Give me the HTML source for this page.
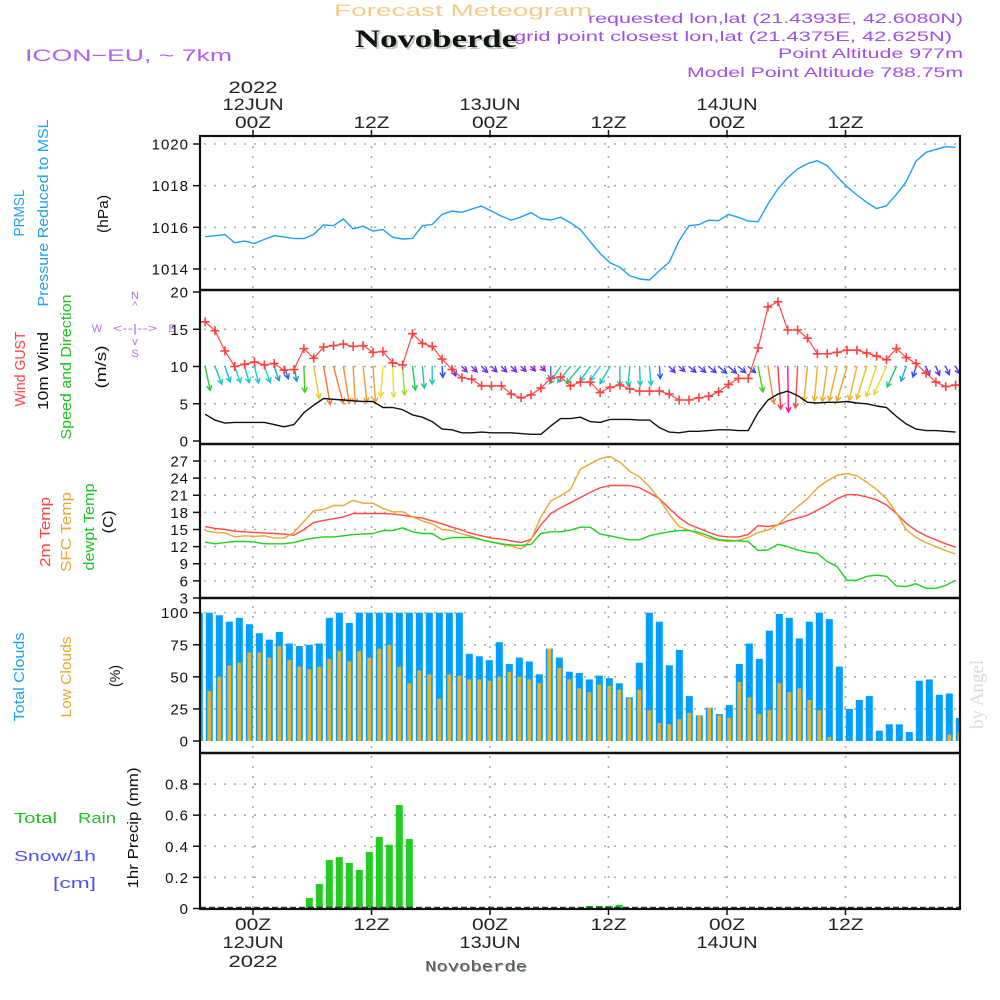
<!DOCTYPE html>
<html>
<head>
<meta charset="utf-8">
<style>
  html,body{margin:0;padding:0;background:#fff;}
  svg{display:block;}
  text{font-family:"Liberation Sans",sans-serif;}
</style>
</head>
<body>
<svg id="chart" width="1000" height="1000" viewBox="0 0 1000 1000" xmlns="http://www.w3.org/2000/svg">
  <rect x="0" y="0" width="1000" height="1000" fill="#fff"/>
  <!-- header -->
  <text x="334" y="16" font-size="17" fill="#f2cc88" textLength="258" lengthAdjust="spacingAndGlyphs">Forecast Meteogram</text>
  <text x="357" y="49" font-size="25" font-weight="bold" fill="#b9cbb9" textLength="162" lengthAdjust="spacingAndGlyphs" style="font-family:'Liberation Serif',serif">Novoberde</text>
  <text x="355" y="47" font-size="25" font-weight="bold" fill="#111" textLength="162" lengthAdjust="spacingAndGlyphs" style="font-family:'Liberation Serif',serif">Novoberde</text>
  <text x="25" y="61" font-size="17" fill="#b060f0" textLength="207" lengthAdjust="spacingAndGlyphs">ICON−EU, ~ 7km</text>
  <text x="963" y="23" font-size="14" fill="#a050e0" text-anchor="end" textLength="375" lengthAdjust="spacingAndGlyphs">requested lon,lat (21.4393E, 42.6080N)</text>
  <text x="952" y="41" font-size="14" fill="#a050e0" text-anchor="end" textLength="438" lengthAdjust="spacingAndGlyphs">grid point closest lon,lat (21.4375E, 42.625N)</text>
  <text x="963" y="58" font-size="14" fill="#a050e0" text-anchor="end" textLength="185" lengthAdjust="spacingAndGlyphs">Point Altitude 977m</text>
  <text x="963" y="77" font-size="14" fill="#a050e0" text-anchor="end" textLength="276" lengthAdjust="spacingAndGlyphs">Model Point Altitude 788.75m</text>
  <text transform="translate(983,729) rotate(-90)" font-size="19" fill="#d4dcd4" style="font-family:'Liberation Serif',serif">by Angel</text>

  <!-- left axis titles -->
  <g font-size="15">
    <text transform="translate(24,213) rotate(-90)" text-anchor="middle" fill="#20a0f0" textLength="47" lengthAdjust="spacingAndGlyphs">PRMSL</text>
    <text transform="translate(48,213) rotate(-90)" text-anchor="middle" fill="#20a0f0" textLength="187" lengthAdjust="spacingAndGlyphs">Pressure Reduced to MSL</text>
    <text transform="translate(108,214) rotate(-90)" text-anchor="middle" fill="#111" textLength="38" lengthAdjust="spacingAndGlyphs">(hPa)</text>
  </g>
  <g font-size="15">
    <text transform="translate(25,369) rotate(-90)" text-anchor="middle" fill="#ff4040" textLength="75" lengthAdjust="spacingAndGlyphs">Wind GUST</text>
    <text transform="translate(48,371) rotate(-90)" text-anchor="middle" fill="#111" textLength="78" lengthAdjust="spacingAndGlyphs">10m Wind</text>
    <text transform="translate(71,367) rotate(-90)" text-anchor="middle" fill="#20c020" textLength="145" lengthAdjust="spacingAndGlyphs">Speed and Direction</text>
    <text transform="translate(106,367) rotate(-90)" text-anchor="middle" fill="#111" textLength="43" lengthAdjust="spacingAndGlyphs">(m/s)</text>
  </g>
  <g fill="#b070e8" font-size="11" text-anchor="middle">
    <text x="135" y="299">N</text>
    <text x="135" y="309">^</text>
    <text x="135" y="332" textLength="44" lengthAdjust="spacingAndGlyphs">&lt;--|--&gt;</text>
    <text x="97" y="332">W</text>
    <text x="172" y="332">E</text>
    <text x="135" y="345">v</text>
    <text x="135" y="357">S</text>
  </g>
  <g font-size="15">
    <text transform="translate(50,532) rotate(-90)" text-anchor="middle" fill="#ff4040" textLength="70" lengthAdjust="spacingAndGlyphs">2m Temp</text>
    <text transform="translate(71,532) rotate(-90)" text-anchor="middle" fill="#e8a830" textLength="80" lengthAdjust="spacingAndGlyphs">SFC Temp</text>
    <text transform="translate(94,527) rotate(-90)" text-anchor="middle" fill="#20c020" textLength="87" lengthAdjust="spacingAndGlyphs">dewpt Temp</text>
    <text transform="translate(113,522) rotate(-90)" text-anchor="middle" fill="#111" textLength="23" lengthAdjust="spacingAndGlyphs">(C)</text>
  </g>
  <g font-size="15">
    <text transform="translate(24,677) rotate(-90)" text-anchor="middle" fill="#20a0f0" textLength="89" lengthAdjust="spacingAndGlyphs">Total Clouds</text>
    <text transform="translate(71,677) rotate(-90)" text-anchor="middle" fill="#e8a830" textLength="81" lengthAdjust="spacingAndGlyphs">Low Clouds</text>
    <text transform="translate(120,676) rotate(-90)" text-anchor="middle" fill="#111" textLength="22" lengthAdjust="spacingAndGlyphs">(%)</text>
  </g>
  <g font-size="15">
    <text x="14" y="823" fill="#20c020" textLength="43" lengthAdjust="spacingAndGlyphs">Total</text>
    <text x="78" y="823" fill="#20c020" textLength="38" lengthAdjust="spacingAndGlyphs">Rain</text>
    <text x="14" y="861" fill="#5050f0" textLength="82" lengthAdjust="spacingAndGlyphs">Snow/1h</text>
    <text x="53" y="888" fill="#5050f0" textLength="43" lengthAdjust="spacingAndGlyphs">[cm]</text>
    <text transform="translate(138,828) rotate(-90)" text-anchor="middle" fill="#111" textLength="121" lengthAdjust="spacingAndGlyphs">1hr Precip (mm)</text>
  </g>

  <text x="426" y="972" font-size="15" fill="#9aa89a" textLength="102" lengthAdjust="spacingAndGlyphs" style="font-family:'Liberation Mono',monospace">Novoberde</text>
  <text x="425" y="971" font-size="15" fill="#555" textLength="102" lengthAdjust="spacingAndGlyphs" style="font-family:'Liberation Mono',monospace">Novoberde</text>

  <g id="layer"></g>
</svg>

<script>
// ---------- data ----------
const pressure = [1015.55,1015.6,1015.65,1015.26,1015.34,1015.23,1015.42,1015.6,1015.54,1015.46,
 1015.46,1015.66,1016.11,1016.08,1016.4,1015.92,1016.06,1015.82,1015.9,1015.52,
 1015.44,1015.47,1016.08,1016.14,1016.62,1016.78,1016.72,1016.88,1017.02,1016.78,
 1016.54,1016.34,1016.5,1016.7,1016.42,1016.35,1016.48,1016.22,1015.89,1015.31,
 1014.75,1014.3,1014.08,1013.68,1013.52,1013.47,1013.92,1014.32,1015.36,1016.08,
 1016.13,1016.34,1016.32,1016.62,1016.48,1016.3,1016.27,1017.12,1017.84,1018.38,
 1018.8,1019.06,1019.2,1018.96,1018.43,1017.95,1017.55,1017.2,1016.9,1017.04,
 1017.58,1018.19,1019.18,1019.6,1019.74,1019.87,1019.84];
const gust = [16.0,14.8,12.1,10.0,10.3,10.6,10.2,10.4,9.5,9.6,
 12.4,11.1,12.6,12.8,13.0,12.7,12.8,11.9,12.0,10.5,
 10.2,14.4,13.1,12.7,11.0,9.6,8.5,8.3,7.4,7.4,
 7.4,6.3,5.8,6.2,7.1,8.4,8.6,7.4,7.9,
 7.9,6.5,7.2,7.5,7.0,6.7,6.7,6.7,6.3,5.5,
 5.5,5.8,6.0,6.6,7.6,8.4,8.4,12.5,18.0,18.7,
 14.9,14.9,13.8,11.7,11.7,11.9,12.2,12.2,11.8,11.4,
 10.9,12.4,11.2,10.4,9.1,7.9,7.3,7.5];
const windSpeed = [3.6,2.8,2.4,2.5,2.5,2.5,2.5,2.2,1.9,2.2,
 3.8,4.8,5.7,5.6,5.5,5.4,5.3,5.3,4.5,4.5,
 4.2,3.5,3.2,2.6,1.6,1.5,1.1,1.1,1.2,1.1,
 1.1,1.1,1.0,0.9,0.9,2.0,3.0,3.0,3.2,
 2.6,2.5,2.9,2.9,2.9,2.8,2.8,1.8,1.2,1.1,
 1.3,1.3,1.4,1.5,1.5,1.4,1.4,3.8,5.5,6.3,
 6.7,6.1,5.2,5.1,5.2,5.2,5.3,5.1,5.0,4.7,
 4.5,3.3,2.3,1.6,1.4,1.4,1.3,1.2];
const windDir = [348,339,341,340,344,346,340,341,341,349,
 358,350,350,345,351,357,354,356,4,358,
 356,353,355,0,356,338,315,315,315,315,
 315,315,315,315,315,0,33,39,40,
 35,35,30,0,5,358,355,355,315,310,
 310,310,310,310,310,310,310,349,351,356,
 359,3,6,5,8,13,16,13,17,19,
 24,24,20,17,338,338,337,330];
const temp2m = [15.5,15.2,15.0,14.7,14.6,14.5,14.4,14.3,14.2,14.0,
 15.0,16.2,16.6,16.9,17.2,17.8,17.8,17.8,17.8,17.7,
 17.5,17.2,17.0,16.5,16.0,15.4,14.9,14.3,13.9,13.5,
 13.3,13.0,12.7,13.3,15.8,17.8,18.8,19.7,20.6,
 21.5,22.3,22.7,22.7,22.7,22.3,21.4,20.4,18.7,17.1,
 15.9,15.2,14.5,13.9,13.7,13.7,14.1,15.7,15.5,15.8,
 16.5,17.0,17.5,18.4,19.3,20.4,21.1,21.1,20.7,20.2,
 19.3,17.8,16.1,14.8,13.9,13.2,12.5,11.9];
const tempSfc = [14.8,14.5,14.4,13.7,13.9,13.8,13.9,13.5,13.5,14.5,
 16.4,18.3,18.5,19.2,19.2,20.1,19.6,19.6,18.7,18.1,
 18.1,17.2,16.5,16.0,15.0,14.8,14.2,13.8,13.2,12.8,
 12.4,12.1,11.6,13.2,17.2,20.0,20.9,22.0,25.6,
 26.5,27.4,27.8,26.8,25.2,24.2,22.5,20.3,17.7,15.5,
 14.9,14.2,13.5,13.1,12.9,13.1,13.6,14.5,14.9,15.8,
 17.5,19.0,20.4,22.3,23.5,24.5,24.8,24.4,23.3,22.0,
 20.4,17.9,15.0,13.6,12.7,12.0,11.3,10.7];
const dewpt = [12.8,12.5,12.7,12.9,12.9,12.8,12.5,12.5,12.5,12.7,
 13.2,13.5,13.7,13.7,13.9,14.1,14.2,14.3,14.8,14.8,
 15.3,14.6,14.3,14.3,13.2,13.6,13.6,13.6,13.2,12.8,
 12.5,12.3,12.2,12.4,14.3,14.6,14.6,14.9,15.4,
 15.4,14.2,13.9,13.5,13.2,13.2,13.9,14.3,14.6,14.8,
 14.8,14.5,13.9,13.2,13.1,13.0,12.9,11.3,11.4,12.4,
 12.0,11.4,11.0,10.8,9.4,8.5,6.1,6.1,6.8,7.0,
 6.8,5.1,5.0,5.5,4.7,4.7,5.2,6.1];
const totalCloud = [100,100,98,93,96,91,84,79,85,76,
 74,75,76,96,100,92,100,100,100,100,
 100,100,100,100,100,100,100,68,66,63,
 77,60,65,62,52,72,65,54,53,48,
 51,49,45,34,61,100,93,59,71,35,
 20,26,21,28,60,76,64,86,99,96,
 80,93,100,95,58,25,32,35,8,13,
 13,7,47,48,36,37,18];
const lowCloud = [40,39,50,59,61,69,69,65,74,63,
 58,56,58,64,70,62,70,65,72,75,
 58,45,55,52,33,52,51,48,48,47,
 50,54,50,48,45,72,57,48,41,38,
 44,43,40,33,40,24,14,13,17,22,
 20,26,20,18,46,34,21,24,45,38,
 41,32,24,3,0,0,0,0,0,0,
 0,0,0,0,0,5,7];
const precip = [0,0,0,0,0,0,0,0,0,0,
 0,0.068,0.158,0.312,0.33,0.293,0.248,0.364,0.46,0.41,
 0.665,0.447,0,0,0,0,0,0,0,0,
 0,0,0,0,0,0,0,0,0,0.017,
 0.017,0.017,0.024,0,0,0,0,0,0,0,
 0,0,0,0,0,0,0,0,0,0,
 0,0,0,0,0,0,0,0,0,0,
 0,0,0,0,0,0,0];
const pressureTicks = [1014,1016,1018,1020];
const windTicks = [0,5,10,15,20];
const tempTicks = [3,6,9,12,15,18,21,24,27];
const cloudTicks = [0,25,50,75,100];
const precipTicks = [0,0.2,0.4,0.6,0.8];
const precipTickLabels = ["0","0.2","0.4","0.6","0.8"];
const timeTickHours = [0,12,24,36,48,60];
const timeTickHour = ["00Z","12Z","00Z","12Z","00Z","12Z"];
const timeTickDay = ["12JUN","","13JUN","","14JUN",""];
const timeTickYear = ["2022","","","","",""];

// ---------- axes ----------
const PL = 200, PR = 960;
const panels = {
  pres:  {top:136, bot:290},
  wind:  {top:290, bot:444},
  temp:  {top:444, bot:598},
  cloud: {top:598, bot:753},
  prec:  {top:753, bot:909}
};
function xHour(h){ return 253 + h*9.875; }
function xPt(i){ return xHour(i - 4.85); }
function xBar(j){ return 199.3 + 10*j; }
function yPres(p){ return 144 + (1020-p)*20.83; }
function yWind(v){ return 441 - v*7.45; }
function yTemp(t){ return 461 + (27-t)*5.708; }
function yCloud(c){ return 741 - c*1.283; }
function yPrec(m){ return 908.5 - m*155.6; }

const NS = "http://www.w3.org/2000/svg";
const layer = document.getElementById("layer");
function mk(tag, attrs, parent){
  const e = document.createElementNS(NS, tag);
  for (const k in attrs) e.setAttribute(k, attrs[k]);
  (parent||layer).appendChild(e);
  return e;
}

const defs = mk("defs", {});
for (const k in panels){
  const cp = mk("clipPath", {id:"clip-"+k}, defs);
  mk("rect", {x:PL, y:panels[k].top, width:PR-PL, height:panels[k].bot-panels[k].top}, cp);
}

// grid
const grid = mk("g", {stroke:"#a8a8a8", "stroke-width":"1.6", "stroke-dasharray":"2 8", fill:"none"});


timeTickHours.forEach(h=>{
  const l = mk("line", {x1:xHour(h), x2:xHour(h), y1:136, y2:909}, grid);
  
  
});
function hgrid(ticks, yf){
  ticks.forEach(t=>{
    const l = mk("line", {x1:PL+4, x2:PR, y1:yf(t), y2:yf(t)}, grid);
    
    
  });
}
hgrid(pressureTicks, yPres);
hgrid(windTicks.filter(v=>v>0&&v<20), yWind);
hgrid(tempTicks.filter(v=>v>3), yTemp);
hgrid(cloudTicks.filter(v=>v>0), yCloud);
hgrid(precipTicks.filter(v=>v>0), yPrec);

// y tick labels
function yLabels(ticks, labels, yf, name){
  const g = mk("g", {"font-size":"15", fill:"#111", "text-anchor":"end"});
  
  
  ticks.forEach((t,i)=>{
    const tk = mk("line", {x1:193, x2:PL, y1:yf(t), y2:yf(t), stroke:"#111", "stroke-width":"1.5"}, g);
    
    
    const tx = mk("text", {x:189, y:yf(t)+5.5, "letter-spacing":"1"}, g);
    
    
    tx.textContent = labels ? labels[i] : String(t);
  });
}
yLabels(pressureTicks, null, yPres, "pressure-y-axis");
yLabels(windTicks, null, yWind, "wind-y-axis");
yLabels(tempTicks, null, yTemp, "temp-y-axis");
yLabels(cloudTicks, null, yCloud, "cloud-y-axis");
yLabels(precipTicks, precipTickLabels, yPrec, "precip-y-axis");

// time axis labels
const tAxis = mk("g", {"font-size":"17", fill:"#222", "text-anchor":"middle"});


timeTickHours.forEach((h,i)=>{
  const x = xHour(h);
  const t1 = mk("line", {x1:x, x2:x, y1:130, y2:136, stroke:"#111", "stroke-width":"1.5"}, tAxis);
  
  
  const t2 = mk("line", {x1:x, x2:x, y1:909, y2:915, stroke:"#111", "stroke-width":"1.5"}, tAxis);
  
  
  const a = mk("text", {x:x, y:128, textLength:36, lengthAdjust:"spacingAndGlyphs"}, tAxis);
  
  
  a.textContent = timeTickHour[i];
  const b = mk("text", {x:x, y:930, textLength:36, lengthAdjust:"spacingAndGlyphs"}, tAxis);
  
  
  b.textContent = timeTickHour[i];
  if (timeTickDay[i]){
    const c = mk("text", {x:x, y:110, textLength:61, lengthAdjust:"spacingAndGlyphs"}, tAxis);
    
    
    c.textContent = timeTickDay[i];
    const d = mk("text", {x:x, y:948, textLength:61, lengthAdjust:"spacingAndGlyphs"}, tAxis);
    
    
    d.textContent = timeTickDay[i];
  }
  if (timeTickYear[i]){
    const e = mk("text", {x:x, y:93, textLength:49, lengthAdjust:"spacingAndGlyphs"}, tAxis);
    
    
    e.textContent = timeTickYear[i];
    const f = mk("text", {x:x, y:967, textLength:49, lengthAdjust:"spacingAndGlyphs"}, tAxis);
    
    
    f.textContent = timeTickYear[i];
  }
});

function series(vals, yf, color, clip, name, w){
  const d = vals.map((v,i)=>(i?"L":"M")+xPt(i).toFixed(1)+","+yf(v).toFixed(1)).join(" ");
  const p = mk("path", {d:d, fill:"none", stroke:color, "stroke-width":w||1.4, "clip-path":"url(#clip-"+clip+")", "stroke-linejoin":"round"});
  
  
  return p;
}

series(pressure, yPres, "#20a0f0", "pres", "pressure-line");

// clouds
const cg = mk("g", {"clip-path":"url(#clip-cloud)"});


totalCloud.forEach((v,j)=>{
  const x = xBar(j);
  const r = mk("rect", {x:x-3.5, y:yCloud(v), width:7, height:yCloud(0)-yCloud(v), fill:"#00a0ff"}, cg);
  
  
  const lv = lowCloud[j];
  if (lv>0){
    const r2 = mk("rect", {x:x-1.9, y:yCloud(lv), width:3.8, height:yCloud(0)-yCloud(lv), fill:"#e8b030"}, cg);
    
    
  }
});

// precip
const pg = mk("g", {"clip-path":"url(#clip-prec)"});


precip.forEach((v,j)=>{
  if (v<=0) return;
  const x = xBar(j);
  const r = mk("rect", {x:x-3.5, y:yPrec(v), width:7, height:yPrec(0)-yPrec(v), fill:"#22cc22"}, pg);
  
  
});
const zl = mk("line", {x1:PL, x2:PR, y1:yPrec(0)-1, y2:yPrec(0)-1, stroke:"#333", "stroke-width":"1.5", "stroke-dasharray":"6 3"});



// temps
series(temp2m, yTemp, "#ff4848", "temp", "temp-2m-line");
series(tempSfc, yTemp, "#e8a830", "temp", "temp-sfc-line");
series(dewpt, yTemp, "#20d020", "temp", "dewpoint-line");

// wind
function speedColor(v){
  const stops = [[0.9,[144,32,224]],[1.7,[32,80,255]],[2.5,[32,200,208]],[3.2,[32,200,144]],[3.7,[32,208,32]],[4.5,[232,224,32]],[5.3,[240,160,48]],[6.2,[255,64,64]],[6.7,[255,16,144]]];
  if (v<=stops[0][0]) return "rgb("+stops[0][1].join(",")+")";
  for (let k=1;k<stops.length;k++){
    if (v<=stops[k][0]){
      const a=stops[k-1], b=stops[k], t=(v-a[0])/(b[0]-a[0]);
      return "rgb("+a[1].map((c,m)=>Math.round(c+(b[1][m]-c)*t)).join(",")+")";
    }
  }
  return "rgb("+stops[stops.length-1][1].join(",")+")";
}
const wg = mk("g", {"clip-path":"url(#clip-wind)", fill:"none", "stroke-width":"1.4", "stroke-linecap":"round"});


windSpeed.forEach((v,i)=>{
  const x0 = xPt(i), y0 = yWind(10);
  const L = v*6.8;
  const phi = windDir[i]*Math.PI/180;
  const ux = -Math.sin(phi), uy = Math.cos(phi);
  const x1 = x0+ux*L, y1 = y0+uy*L;
  const hl = 5, ha = 0.5;
  const bx = -ux, by = -uy;
  const h1x = x1 + hl*(bx*Math.cos(ha) - by*Math.sin(ha)), h1y = y1 + hl*(bx*Math.sin(ha) + by*Math.cos(ha));
  const h2x = x1 + hl*(bx*Math.cos(-ha) - by*Math.sin(-ha)), h2y = y1 + hl*(bx*Math.sin(-ha) + by*Math.cos(-ha));
  const p = mk("path", {d:`M${x0.toFixed(1)},${y0.toFixed(1)} L${x1.toFixed(1)},${y1.toFixed(1)} M${h1x.toFixed(1)},${h1y.toFixed(1)} L${x1.toFixed(1)},${y1.toFixed(1)} L${h2x.toFixed(1)},${h2y.toFixed(1)}`, stroke:speedColor(v)}, wg);
  
  
});
series(windSpeed, yWind, "#111", "wind", "wind-speed-line");
series(gust, yWind, "#ff4848", "wind", "wind-gust-line", 1.2);
const mg = mk("g", {stroke:"#ff4040", "stroke-width":"1.6", "clip-path":"url(#clip-wind)"});


gust.forEach((v,i)=>{
  const x = xPt(i), y = yWind(v);
  const m = mk("path", {d:`M${(x-4.5).toFixed(1)},${y.toFixed(1)} H${(x+4.5).toFixed(1)} M${x.toFixed(1)},${(y-4.5).toFixed(1)} V${(y+4.5).toFixed(1)}`}, mg);
  
  
});

// frames
const fr = mk("g", {stroke:"#111", fill:"none", "stroke-width":"2.2"});


const outer = mk("rect", {x:PL, y:136, width:PR-PL, height:909-136}, fr);


[290,444,598,753].forEach(y=>{
  const l = mk("line", {x1:PL, x2:PR, y1:y, y2:y, "stroke-width":"2.6"}, fr);
  
  
});
</script>
</body>
</html>
